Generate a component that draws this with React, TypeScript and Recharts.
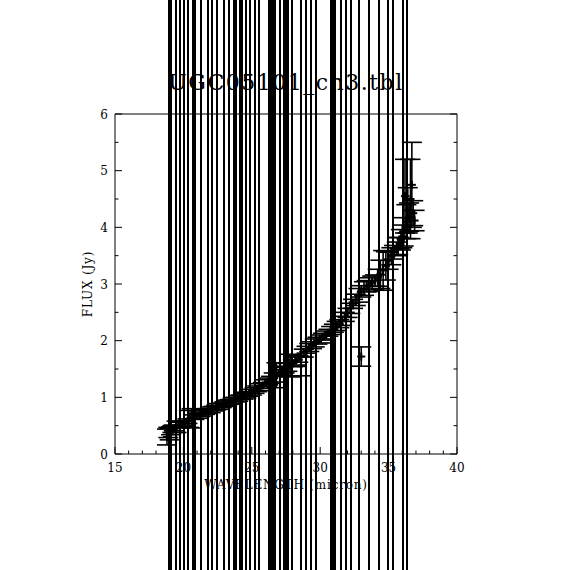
import { ScatterChart, Scatter, XAxis, YAxis, ErrorBar, ReferenceLine } from 'recharts'

// spectrum points: wavelength (micron), flux (Jy), 1-sigma flux error
const wavelength = [
    18.8, 18.9, 19.0, 19.1, 19.2, 19.3, 19.5, 19.7, 19.9, 20.1, 20.3, 20.4, 20.6, 20.8,
    21.0, 21.2, 21.4, 21.6, 21.8, 22.0, 22.2, 22.4, 22.6, 22.8, 23.0, 23.2, 23.4, 23.6,
    23.8, 24.0, 24.2, 24.4, 24.6, 24.8, 25.0, 25.2, 25.4, 25.6, 25.8, 26.0, 26.2, 26.4,
    26.6, 26.8, 27.0, 27.2, 27.4, 27.6, 27.8, 28.0, 28.2, 28.4, 28.6, 28.8, 29.0, 29.2,
    29.4, 29.6, 29.8, 30.0, 30.2, 30.4, 30.6, 30.8, 31.0, 31.2, 31.4, 31.6, 31.8, 32.0,
    32.2, 32.4, 32.6, 32.8, 33.0, 33.0, 33.2, 33.4, 33.6, 33.8, 34.0, 34.2, 34.4, 34.6,
    34.8, 35.0, 35.2, 35.4, 35.6, 35.7, 35.8, 35.9, 36.0, 36.1, 36.2, 36.3, 36.4, 36.5,
    36.6, 36.7, 36.8, 36.9,
]
const flux = [
    0.30, 0.38, 0.35, 0.41, 0.44, 0.46, 0.48, 0.51, 0.53, 0.55, 0.58, 0.62, 0.63, 0.65,
    0.67, 0.70, 0.72, 0.74, 0.76, 0.78, 0.80, 0.82, 0.84, 0.86, 0.88, 0.90, 0.92, 0.94,
    0.96, 0.98, 1.00, 1.02, 1.04, 1.06, 1.09, 1.12, 1.15, 1.18, 1.21, 1.25, 1.28, 1.31,
    1.35, 1.39, 1.43, 1.46, 1.49, 1.53, 1.56, 1.60, 1.64, 1.68, 1.55, 1.78, 1.84, 1.88,
    1.92, 1.96, 2.00, 2.03, 2.07, 2.10, 2.14, 2.18, 2.22, 2.26, 2.30, 2.35, 2.42, 2.49,
    2.57, 2.65, 2.72, 2.80, 2.87, 1.72, 2.92, 2.96, 2.99, 3.02, 3.06, 3.11, 3.17, 3.24,
    3.32, 3.41, 3.49, 3.56, 3.62, 3.67, 3.72, 3.78, 3.84, 3.92, 4.55, 4.10, 4.30, 4.18,
    4.50, 4.75, 4.25, 4.12,
]
const fluxErr = [
    0.14, 0.09, 0.10, 0.07, 0.06, 0.05, 0.10, 0.05, 0.05, 0.04, 0.04, 0.15, 0.17, 0.04,
    0.04, 0.04, 0.05, 0.04, 0.04, 0.05, 0.04, 0.04, 0.05, 0.04, 0.04, 0.05, 0.04, 0.05,
    0.04, 0.05, 0.04, 0.05, 0.05, 0.04, 0.05, 0.05, 0.05, 0.06, 0.05, 0.06, 0.06, 0.06,
    0.08, 0.22, 0.06, 0.07, 0.06, 0.07, 0.20, 0.06, 0.07, 0.06, 0.17, 0.07, 0.06, 0.07,
    0.06, 0.07, 0.06, 0.07, 0.06, 0.07, 0.06, 0.07, 0.07, 0.08, 0.07, 0.08, 0.08, 0.08,
    0.09, 0.08, 0.10, 0.12, 0.10, 0.17, 0.12, 0.10, 0.12, 0.12, 0.10, 0.15, 0.25, 0.35,
    0.25, 0.15, 0.15, 0.12, 0.12, 0.15, 0.10, 0.18, 0.20, 0.25, 0.65, 0.30, 0.40, 0.25,
    0.70, 0.75, 0.22, 0.18,
]

// points whose error bars run off the whole plot
const spikeWavelengths = [
    18.95, 19.09, 19.44, 19.74, 20.06, 20.36, 20.67, 20.88, 21.29, 21.78, 22.07, 22.43,
    22.98, 23.35, 23.69, 23.81, 24.14, 24.25, 24.59, 24.87, 25.27, 25.54, 26.26, 26.37,
    26.48, 26.59, 26.73, 27.03, 27.32, 27.43, 27.54, 27.65, 27.95, 28.56, 28.93, 29.34,
    29.66, 30.79, 30.94, 31.08, 31.51, 31.87, 32.24, 32.85, 33.55, 34.3, 34.92, 35.29,
    36.02, 36.38,
]

const xTicks = [
    15, 16, 17, 18, 19, 20, 21, 22, 23, 24, 25, 26, 27, 28, 29, 30, 31, 32, 33, 34, 35,
    36, 37, 38, 39, 40,
]
const xLabelTicks = [15, 20, 25, 30, 35, 40]
const yTicks = [0, 0.5, 1, 1.5, 2, 2.5, 3, 3.5, 4, 4.5, 5, 5.5, 6]
const yLabelTicks = [0, 1, 2, 3, 4, 5, 6]

const points = wavelength.map((w, i) => ({ w, f: flux[i], err: fluxErr[i] }))

const FONT = '"DejaVu Serif", "Liberation Serif", serif'

function BottomTick(props: any) {
    const { x, y, payload } = props
    const major = xLabelTicks.includes(payload.value)
    return (
        <g>
            <line x1={x} x2={x} y1={y} y2={y - (major ? 7 : 3.5)} stroke="#000" />
            {major && (
                <text x={x} y={y + 18} textAnchor="middle" fontSize={12} fontFamily={FONT} fill="#000">
                    {payload.value}
                </text>
            )}
        </g>
    )
}

function TopTick(props: any) {
    const { x, y, payload } = props
    const major = xLabelTicks.includes(payload.value)
    return <line x1={x} x2={x} y1={y} y2={y + (major ? 7 : 3.5)} stroke="#000" />
}

function LeftTick(props: any) {
    const { x, y, payload } = props
    const major = yLabelTicks.includes(payload.value)
    return (
        <g>
            <line x1={x} x2={x + (major ? 7 : 3.5)} y1={y} y2={y} stroke="#000" />
            {major && (
                <text x={x - 7} y={y + 4.5} textAnchor="end" fontSize={12} fontFamily={FONT} fill="#000">
                    {payload.value}
                </text>
            )}
        </g>
    )
}

function RightTick(props: any) {
    const { x, y, payload } = props
    const major = yLabelTicks.includes(payload.value)
    return <line x1={x} x2={x - (major ? 7 : 3.5)} y1={y} y2={y} stroke="#000" />
}

function Cross(props: any) {
    const { cx, cy } = props
    return (
        <g stroke="#000" strokeWidth={2}>
            <line x1={cx - 4} x2={cx + 4} y1={cy} y2={cy} />
            <line x1={cx} x2={cx} y1={cy - 4} y2={cy + 4} />
        </g>
    )
}

const labelStyle = { fill: '#000', fontSize: 12, fontFamily: FONT, letterSpacing: 0.8 }

export default function App() {
    return (
        <div style={{ position: 'absolute', left: 0, top: 0, width: 570, height: 570, background: '#fff' }}>
            <ScatterChart width={570} height={570} margin={{ top: 0, right: 0, bottom: 0, left: 0 }}>
                <XAxis
                    type="number"
                    dataKey="w"
                    domain={[15, 40]}
                    ticks={xTicks}
                    interval={0}
                    allowDataOverflow
                    height={116}
                    tickSize={0}
                    tickMargin={0}
                    tickLine={false}
                    axisLine={{ stroke: '#000' }}
                    tick={BottomTick}
                    label={{ value: 'WAVELENGTH (micron)', position: 'insideTop', offset: 26, ...labelStyle }}
                />
                <XAxis
                    xAxisId="top"
                    orientation="top"
                    type="number"
                    domain={[15, 40]}
                    ticks={xTicks}
                    interval={0}
                    allowDataOverflow
                    height={114}
                    tickSize={0}
                    tickMargin={0}
                    tickLine={false}
                    axisLine={{ stroke: '#000' }}
                    tick={TopTick}
                    label={{
                        value: 'UGC05101_ch3.tbl',
                        position: 'insideBottom',
                        offset: 24,
                        fill: '#000',
                        fontSize: 22,
                        fontFamily: FONT,
                        letterSpacing: 1.5,
                    }}
                />
                <YAxis
                    type="number"
                    dataKey="f"
                    domain={[0, 6]}
                    ticks={yTicks}
                    interval={0}
                    allowDataOverflow
                    width={115}
                    tickSize={0}
                    tickMargin={0}
                    tickLine={false}
                    axisLine={{ stroke: '#000' }}
                    tick={LeftTick}
                    label={{
                        value: 'FLUX (Jy)',
                        angle: -90,
                        position: 'insideLeft',
                        offset: 88,
                        style: { textAnchor: 'middle' },
                        ...labelStyle,
                    }}
                />
                <YAxis
                    yAxisId="right"
                    orientation="right"
                    type="number"
                    domain={[0, 6]}
                    ticks={yTicks}
                    interval={0}
                    allowDataOverflow
                    width={113}
                    tickSize={0}
                    tickMargin={0}
                    tickLine={false}
                    axisLine={{ stroke: '#000' }}
                    tick={RightTick}
                />
                {spikeWavelengths.map((w) => (
                    <ReferenceLine
                        key={w}
                        segment={[
                            { x: w, y: -2.5 },
                            { x: w, y: 8.5 },
                        ]}
                        stroke="#000"
                        strokeWidth={2}
                        shapeRendering="crispEdges"
                        ifOverflow="visible"
                    />
                ))}
                <Scatter data={points} shape={Cross} isAnimationActive={false}>
                    <ErrorBar
                        dataKey="err"
                        direction="y"
                        width={10}
                        stroke="#000"
                        strokeWidth={1.6}
                        isAnimationActive={false}
                    />
                </Scatter>
            </ScatterChart>
        </div>
    )
}
